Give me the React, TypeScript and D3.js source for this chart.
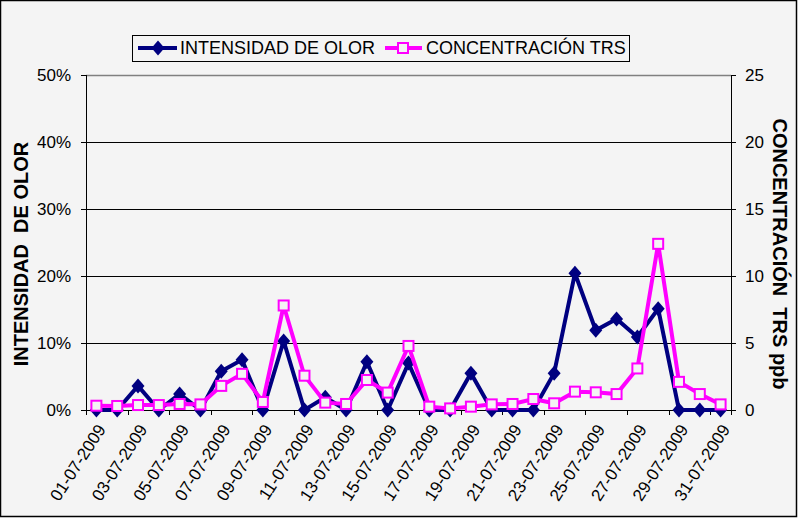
import React, { useEffect, useRef } from 'react';
import * as d3 from 'd3';

const dates = [
  '01-07-2009', '02-07-2009', '03-07-2009', '04-07-2009', '05-07-2009', '06-07-2009',
  '07-07-2009', '08-07-2009', '09-07-2009', '10-07-2009', '11-07-2009', '12-07-2009',
  '13-07-2009', '14-07-2009', '15-07-2009', '16-07-2009', '17-07-2009', '18-07-2009',
  '19-07-2009', '20-07-2009', '21-07-2009', '22-07-2009', '23-07-2009', '24-07-2009',
  '25-07-2009', '26-07-2009', '27-07-2009', '28-07-2009', '29-07-2009', '30-07-2009',
  '31-07-2009',
];

// odour intensity (fraction, left axis)
const intensidad = [
  0, 0, 0.036, 0, 0.024, 0, 0.058, 0.075, 0, 0.103, 0, 0.019, 0, 0.072, 0, 0.07,
  0, 0, 0.055, 0, 0, 0, 0.055, 0.204, 0.119, 0.136, 0.109, 0.151, 0, 0, 0,
];

// TRS concentration in ppb (right axis)
const trs = [
  0.32, 0.3, 0.37, 0.37, 0.45, 0.42, 1.8, 2.7, 0.6, 7.8, 2.56, 0.55, 0.45, 2.24, 1.3,
  4.78, 0.25, 0.12, 0.25, 0.42, 0.45, 0.82, 0.5, 1.37, 1.32, 1.19, 3.1, 12.4, 2.1,
  1.19, 0.42,
];

const leftTicks = [0, 0.1, 0.2, 0.3, 0.4, 0.5];
const rightTicks = [0, 5, 10, 15, 20, 25];

const NAVY = '#000080';
const MAGENTA = '#ff00ff';
const BG = '#f4f4f4';
const FONT = 'Arial, "Liberation Sans", sans-serif';

const App: React.FC = () => {
  const ref = useRef<SVGSVGElement>(null);

  useEffect(() => {
    if (!ref.current) return;
    const svg = d3.select(ref.current);
    svg.selectAll('*').remove();

    const plot = { left: 86, right: 731, top: 75, bottom: 410 };

    // chart background and frame
    svg.append('rect')
      .attr('x', 0.5).attr('y', 0.5)
      .attr('width', 796).attr('height', 516)
      .attr('fill', BG).attr('stroke', '#000').attr('stroke-width', 1.5);

    const x = d3.scaleBand<string>().domain(dates).range([plot.left, plot.right]);
    const yL = d3.scaleLinear().domain([0, 0.5]).range([plot.bottom, plot.top]);
    const yR = d3.scaleLinear().domain([0, 25]).range([plot.bottom, plot.top]);
    const cx = (d: string) => (x(d) ?? 0) + x.bandwidth() / 2;

    // gridlines
    leftTicks.slice(1, -1).forEach(t => {
      svg.append('line')
        .attr('x1', plot.left).attr('x2', plot.right)
        .attr('y1', Math.round(yL(t)) + 0.5).attr('y2', Math.round(yL(t)) + 0.5)
        .attr('stroke', '#000').attr('stroke-width', 1);
    });
    // plot area top border (gray)
    svg.append('line')
      .attr('x1', plot.left).attr('x2', plot.right)
      .attr('y1', plot.top + 0.5).attr('y2', plot.top + 0.5)
      .attr('stroke', '#808080').attr('stroke-width', 1.5);

    // left axis
    svg.append('line')
      .attr('x1', plot.left + 0.5).attr('x2', plot.left + 0.5)
      .attr('y1', plot.top).attr('y2', plot.bottom)
      .attr('stroke', '#000');
    leftTicks.forEach(t => {
      const y = Math.round(yL(t)) + 0.5;
      svg.append('line')
        .attr('x1', plot.left - 5).attr('x2', plot.left)
        .attr('y1', y).attr('y2', y).attr('stroke', '#000');
      svg.append('text')
        .attr('x', 71).attr('y', y).attr('dy', '0.35em')
        .attr('text-anchor', 'end')
        .style('font-family', FONT).style('font-size', '17px')
        .text(d3.format('.0%')(t));
    });

    // right axis
    svg.append('line')
      .attr('x1', plot.right + 0.5).attr('x2', plot.right + 0.5)
      .attr('y1', plot.top).attr('y2', plot.bottom)
      .attr('stroke', '#000');
    rightTicks.forEach(t => {
      const y = Math.round(yR(t)) + 0.5;
      svg.append('line')
        .attr('x1', plot.right).attr('x2', plot.right + 5)
        .attr('y1', y).attr('y2', y).attr('stroke', '#000');
      svg.append('text')
        .attr('x', 745).attr('y', y).attr('dy', '0.35em')
        .attr('text-anchor', 'start')
        .style('font-family', FONT).style('font-size', '17px')
        .text(t);
    });

    // bottom axis
    svg.append('line')
      .attr('x1', plot.left).attr('x2', plot.right)
      .attr('y1', plot.bottom + 0.5).attr('y2', plot.bottom + 0.5)
      .attr('stroke', '#000');
    dates.forEach((d, i) => {
      if (i % 2 === 0) {
        const tx = Math.round(x(d) ?? 0) + 0.5;
        svg.append('line')
          .attr('x1', tx).attr('x2', tx)
          .attr('y1', plot.bottom).attr('y2', plot.bottom + 5)
          .attr('stroke', '#000');
        svg.append('text')
          .attr('transform', `translate(${cx(d) + 5},${plot.bottom + 16}) rotate(-57)`)
          .attr('dy', '0.35em')
          .attr('text-anchor', 'end')
          .style('font-family', FONT).style('font-size', '17px')
          .text(d);
      }
    });
    // closing tick at right end
    svg.append('line')
      .attr('x1', plot.right + 0.5).attr('x2', plot.right + 0.5)
      .attr('y1', plot.bottom).attr('y2', plot.bottom + 5)
      .attr('stroke', '#000');

    // axis titles
    svg.append('text')
      .attr('transform', `translate(28,254) rotate(-90)`)
      .attr('text-anchor', 'middle')
      .style('font-family', FONT).style('font-size', '20px').style('font-weight', 'bold')
      .style('white-space', 'pre')
      .text('INTENSIDAD  DE OLOR');
    svg.append('text')
      .attr('transform', `translate(773,254) rotate(90)`)
      .attr('text-anchor', 'middle')
      .style('font-family', FONT).style('font-size', '20px').style('font-weight', 'bold')
      .style('white-space', 'pre')
      .text('CONCENTRACIÓN  TRS ppb');

    const diamond = 'M0,-7.5L6.5,0L0,7.5L-6.5,0Z';

    // intensity series
    const lineL = d3.line<number>().x((_, i) => cx(dates[i])).y(v => yL(v));
    svg.append('path')
      .attr('d', lineL(intensidad)!)
      .attr('fill', 'none').attr('stroke', NAVY).attr('stroke-width', 4);
    intensidad.forEach((v, i) => {
      svg.append('path')
        .attr('transform', `translate(${cx(dates[i])},${yL(v)})`)
        .attr('d', diamond).attr('fill', NAVY);
    });

    // TRS series
    const lineR = d3.line<number>().x((_, i) => cx(dates[i])).y(v => yR(v));
    svg.append('path')
      .attr('d', lineR(trs)!)
      .attr('fill', 'none').attr('stroke', MAGENTA).attr('stroke-width', 4);
    trs.forEach((v, i) => {
      svg.append('rect')
        .attr('x', cx(dates[i]) - 5).attr('y', yR(v) - 5)
        .attr('width', 10).attr('height', 10)
        .attr('fill', BG).attr('stroke', MAGENTA).attr('stroke-width', 2);
    });

    // legend
    const lg = svg.append('g');
    lg.append('rect')
      .attr('x', 132.5).attr('y', 35.5).attr('width', 497).attr('height', 26)
      .attr('fill', BG).attr('stroke', '#000');
    lg.append('line')
      .attr('x1', 138).attr('x2', 177).attr('y1', 48).attr('y2', 48)
      .attr('stroke', NAVY).attr('stroke-width', 4);
    lg.append('path')
      .attr('transform', 'translate(158,48)').attr('d', diamond).attr('fill', NAVY);
    lg.append('text')
      .attr('x', 180).attr('y', 48).attr('dy', '0.36em')
      .style('font-family', FONT).style('font-size', '18px')
      .text('INTENSIDAD DE OLOR');
    lg.append('line')
      .attr('x1', 385).attr('x2', 422).attr('y1', 48).attr('y2', 48)
      .attr('stroke', MAGENTA).attr('stroke-width', 4);
    lg.append('rect')
      .attr('x', 398).attr('y', 43).attr('width', 10).attr('height', 10)
      .attr('fill', BG).attr('stroke', MAGENTA).attr('stroke-width', 2);
    lg.append('text')
      .attr('x', 426).attr('y', 48).attr('dy', '0.36em')
      .style('font-family', FONT).style('font-size', '18px')
      .text('CONCENTRACIÓN TRS');
  }, []);

  return (
    <svg
      ref={ref}
      width={799}
      height={518}
      style={{ position: 'absolute', left: 0, top: 0, background: '#fff' }}
    />
  );
};

export default App;
